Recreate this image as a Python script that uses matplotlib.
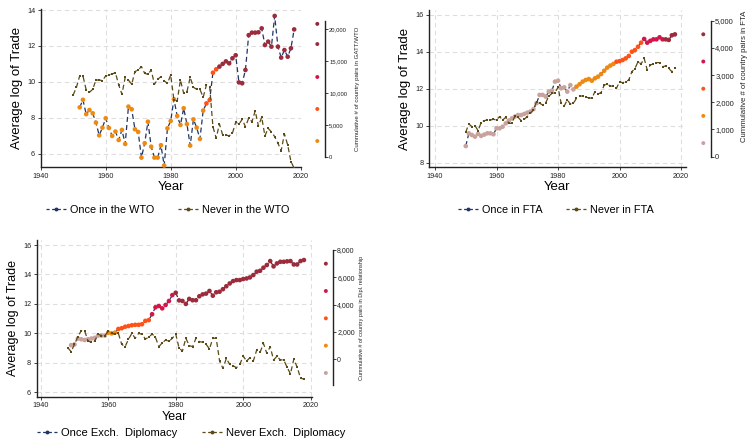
import numpy as np
import matplotlib
matplotlib.use("Agg")
import matplotlib.pyplot as plt
from matplotlib.lines import Line2D

plt.rcParams["font.family"] = ["Liberation Sans", "DejaVu Sans"]

# ---- data ----
wto_once_years = np.arange(1952, 2019)
wto_once = [8.58, 9.0, 8.2, 8.43, 8.25, 7.73, 7.02, 7.45, 7.97, 7.43,
            6.99, 7.23, 6.76, 7.32, 6.54, 8.62, 8.47, 7.36, 7.21, 5.78,
            6.58, 7.78, 6.39, 5.78, 5.78, 6.47, 5.34, 7.41, 7.82, 9.03,
            8.10, 7.6, 8.53, 7.65, 6.45, 7.91, 7.45, 6.82, 8.4, 8.8,
            8.99, 10.51, 10.7, 10.85, 11.0, 11.14, 11.03, 11.31, 11.48, 9.97,
            9.92, 10.66, 12.6, 12.74, 12.74, 12.76, 12.98, 12.05, 12.24, 11.96,
            13.67, 11.96, 11.35, 11.77, 11.4, 11.87, 12.92]
wto_never_years = np.arange(1950, 2019)
wto_never = [9.27, 9.7, 10.33, 10.33, 9.55, 9.42, 9.58, 10.1, 10.1, 10.07,
             10.33, 10.38, 10.44, 10.51, 9.83, 9.31, 10.25, 10.1, 9.86, 10.57,
             10.66, 10.85, 10.47, 10.42, 10.66, 9.86, 10.14, 10.29, 10.05, 9.92,
             10.38, 8.99, 8.94, 10.1, 9.36, 9.45, 10.25, 9.7, 9.58, 9.58,
             9.14, 9.83, 9.73, 7.5, 6.86, 7.65, 7.04, 7.04, 6.99, 7.14,
             7.75, 7.64, 7.91, 7.5, 7.97, 7.78, 8.38, 7.54, 8.03, 6.99,
             7.41, 7.21, 6.95, 6.58, 6.17, 7.1, 6.49, 5.56, 5.19]
wto_breaks = [1991, 1995]          # years where marker colour class changes
wto_classes = [0, 1, 3]            # colour index used for each span
wto_key_vals = [2500, 7500, 12500, 17650, 20800]
wto_key_cols = [0, 1, 2, 3, 4]
wto_ticks = [0, 5000, 10000, 15000, 20000]

fta_once_years = np.arange(1950, 2019)
fta_once = [8.9, 9.59, 9.5, 9.41, 9.56, 9.45, 9.52, 9.59, 9.59, 9.54,
            9.86, 9.86, 9.95, 10.13, 10.28, 10.4, 10.5, 10.58, 10.58, 10.64,
            10.71, 10.77, 10.9, 11.22, 11.67, 11.67, 11.58, 11.85, 11.9, 12.39,
            12.44, 12.03, 12.08, 11.85, 12.2, 11.97, 12.12, 12.25, 12.39, 12.48,
            12.53, 12.44, 12.57, 12.66, 12.8, 12.98, 13.15, 13.26, 13.35, 13.47,
            13.5, 13.56, 13.65, 13.78, 14.01, 14.1, 14.28, 14.5, 14.7, 14.5,
            14.6, 14.68, 14.68, 14.79, 14.68, 14.68, 14.65, 14.9, 14.95]
fta_never_years = np.arange(1950, 2019)
fta_never = [9.65, 10.1, 9.95, 10.0, 9.74, 10.17, 10.28, 10.31, 10.31, 10.35,
             10.31, 10.5, 10.31, 10.46, 10.13, 10.13, 10.53, 10.46, 10.28, 10.35,
             10.5, 10.68, 10.86, 11.3, 11.22, 11.13, 11.25, 11.6, 11.75, 11.8,
             12.08, 11.22, 11.07, 11.4, 11.18, 11.22, 11.49, 11.61, 11.61, 11.54,
             11.52, 11.49, 11.85, 11.72, 11.8, 12.2, 12.26, 12.15, 12.15, 12.03,
             12.39, 12.33, 12.39, 12.48, 12.93, 13.1, 13.47, 13.35, 13.65, 13.02,
             13.29, 13.35, 13.42, 13.42, 13.2, 13.24, 13.11, 12.93, 13.11]
fta_breaks = [1986, 1999, 2008, 2015]
fta_classes = [5, 0, 1, 2, 3]
fta_key_vals = [500, 1500, 2500, 3500, 4500]
fta_key_cols = [5, 0, 1, 2, 3]
fta_ticks = [0, 1000, 2000, 3000, 4000, 5000]

dip_once_years = np.arange(1949, 2019)
dip_once = [9.2, 9.25, 9.65, 9.6, 9.55, 9.6, 9.65, 9.7, 9.85, 9.85,
            9.85, 10.05, 10.0, 10.05, 10.3, 10.35, 10.45, 10.5, 10.55, 10.58,
            10.58, 10.62, 10.85, 10.9, 11.3, 11.77, 11.86, 11.7, 11.93, 12.2,
            12.6, 12.76, 12.24, 12.2, 12.0, 12.34, 12.25, 12.25, 12.52, 12.65,
            12.7, 12.88, 12.56, 12.79, 12.83, 13.0, 13.2, 13.39, 13.55, 13.62,
            13.62, 13.69, 13.73, 13.8, 13.96, 14.19, 14.25, 14.46, 14.64, 14.91,
            14.55, 14.75, 14.86, 14.86, 14.89, 14.91, 14.68, 14.68, 14.91, 14.98]
dip_never_years = np.arange(1948, 2019)
dip_never = [9.03, 8.76, 9.26, 9.78, 10.18, 10.18, 9.48, 9.4, 9.48, 9.94,
             9.85, 9.85, 10.15, 10.0, 9.95, 10.0, 9.25, 9.1, 9.6, 10.0,
             9.67, 10.0, 9.94, 9.62, 9.73, 9.96, 9.73, 9.1, 9.35, 9.55,
             9.45, 9.67, 9.96, 8.99, 8.81, 9.67, 9.17, 9.1, 9.67, 9.44,
             9.4, 9.26, 8.94, 9.67, 9.67, 8.12, 7.62, 8.3, 7.89, 7.8,
             7.67, 7.89, 8.46, 8.12, 8.35, 8.12, 8.87, 8.71, 9.32, 8.64,
             9.1, 8.19, 8.45, 8.2, 8.2, 7.7, 7.25, 8.25, 7.7, 6.95,
             6.9]
dip_breaks = [1960, 1963, 1973, 1980]
dip_classes = [5, 0, 1, 2, 3]
dip_key_vals = [-1000, 1000, 3000, 5000, 7000]
dip_key_cols = [5, 0, 1, 2, 3]
dip_ticks = [0, 2000, 4000, 6000, 8000]

# orange, orange-red, crimson, maroon, dark maroon, pink
palette = ["#ee8a12", "#ff5216", "#d3164a", "#9c2b3b", "#8c2a3e", "#c8a29d"]
navy = "#1f3566"
olive = "#5c4a18"
grid_col = "#dedede"


def draw_panel(rect, once_x, once_y, never_x, never_y, breaks, classes,
               xlim, ylim, yticks, once_lab, never_lab, leg_xy, fs_leg=7.8,
               fs_lab=9.5):
    ax = fig.add_axes(rect)
    ax.set_xlim(*xlim)
    ax.set_ylim(*ylim)
    ax.set_xticks([1940, 1960, 1980, 2000, 2020])
    ax.set_yticks(yticks)
    ax.grid(True, color=grid_col, linestyle=(0, (4, 3)), linewidth=0.8)
    ax.set_axisbelow(True)
    for s in ["top", "right"]:
        ax.spines[s].set_visible(False)
    for s in ["left", "bottom"]:
        ax.spines[s].set_linewidth(1.0)
        ax.spines[s].set_color("#222222")
    ax.tick_params(labelsize=5.2, length=2.5, width=0.6, pad=1.5, colors="#222222")
    ax.set_xlabel("Year", fontsize=fs_lab, labelpad=1)
    ax.set_ylabel("Average log of Trade", fontsize=fs_lab, labelpad=3)

    cls = np.array(classes)[np.digitize(once_x, breaks)]
    cols = [palette[c] for c in cls]
    ax.plot(once_x, once_y, color=navy, linestyle=(0, (4, 2.5)), lw=0.9, zorder=2)
    ax.scatter(once_x, once_y, c=cols, s=11, zorder=3, linewidths=0, clip_on=False)
    ax.plot(never_x, never_y, color=olive, linestyle=(0, (4, 2.5)), lw=0.9,
            marker="s", markersize=1.8, markeredgewidth=0, zorder=4)

    handles = [Line2D([], [], color=navy, linestyle=(0, (2.5, 2)), lw=0.9,
                      marker="o", markersize=1.8),
               Line2D([], [], color=olive, linestyle=(0, (2.5, 2)), lw=0.9,
                      marker="o", markersize=1.8)]
    fig.legend(handles, [once_lab, never_lab], loc="center",
               bbox_to_anchor=leg_xy, ncol=2, frameon=False, fontsize=fs_leg,
               handlelength=1.8, handletextpad=0.4, columnspacing=2.2)
    return ax


def draw_key(rect, vals, cols, ylim, ticks, label, lab_x, lab_y, fs_tick, fs_lab):
    kx = fig.add_axes(rect)
    kx.patch.set_visible(False)
    kx.set_xlim(0, 1)
    kx.set_ylim(*ylim)
    for s in ["top", "left", "bottom"]:
        kx.spines[s].set_visible(False)
    kx.spines["right"].set_linewidth(1.0)
    kx.spines["right"].set_color("#222222")
    kx.set_xticks([])
    kx.yaxis.tick_right()
    kx.set_yticks(ticks)
    kx.set_yticklabels([f"{t:,}" for t in ticks])
    kx.tick_params(labelsize=fs_tick, length=2, width=0.6, pad=1, colors="#222222")
    kx.scatter([0.45] * len(vals), vals, c=[palette[c] for c in cols], s=8,
               linewidths=0, clip_on=False)
    fig.text(lab_x, lab_y, label, rotation=90, ha="center", va="center",
             fontsize=fs_lab, color="#222222")


W, H = 749, 440
fig = plt.figure(figsize=(W / 100, H / 100), dpi=100)


def r(x0, y0, x1, y1):
    # pixel box -> figure fraction
    return [x0 / W, 1 - y1 / H, (x1 - x0) / W, (y1 - y0) / H]


# panel 1: WTO
draw_panel(r(40.7, 9.3, 301, 167.3), wto_once_years, wto_once,
           wto_never_years, wto_never, wto_breaks, wto_classes,
           (1940, 2020.1), (5.24, 14.04), [6, 8, 10, 12, 14],
           "Once in the WTO", "Never in the WTO", (168 / W, 1 - 210 / H))
draw_key(r(311, 21, 325, 157), wto_key_vals, wto_key_cols, (0, 21250),
         wto_ticks, "Cummulative # of country pairs in GATT/WTO",
         358 / W, 1 - 89 / H, 4.2, 4.4)

# panel 2: FTA
draw_panel(r(429, 10, 686, 167.3), fta_once_years, fta_once,
           fta_never_years, fta_never, fta_breaks, fta_classes,
           (1938.05, 2021.6), (7.75, 16.27), [8, 10, 12, 14, 16],
           "Once in FTA", "Never in FTA", (556 / W, 1 - 210 / H))
draw_key(r(697, 20.7, 711, 156.7), fta_key_vals, fta_key_cols, (0, 5000),
         fta_ticks, "Cummulative # of country pairs in FTA",
         745 / W, 1 - 76 / H, 5.5, 5.6)

# panel 3: diplomacy
draw_panel(r(36.7, 240, 311.7, 396.7), dip_once_years, dip_once,
           dip_never_years, dip_never, dip_breaks, dip_classes,
           (1938.8, 2020.3), (5.70, 16.34), [6, 8, 10, 12, 14, 16],
           "Once Exch.  Diplomacy", "Never Exch.  Diplomacy",
           (191 / W, 1 - 432.7 / H), fs_leg=8, fs_lab=9)
draw_key(r(320, 250, 333, 385), dip_key_vals, dip_key_cols, (-1880, 8000),
         dip_ticks, "Cummulative # of country pairs in Dipl. relationship",
         361 / W, 1 - 318 / H, 5, 4.0)

fig.savefig("out.png", dpi=100)
